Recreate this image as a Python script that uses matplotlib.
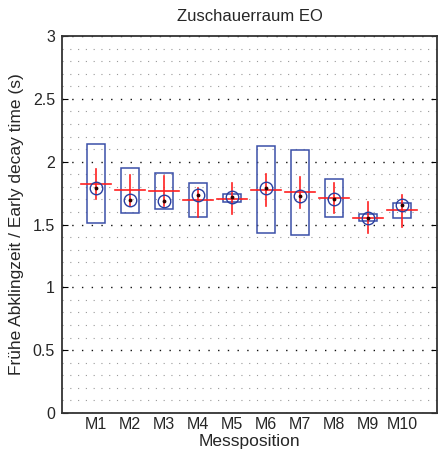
import numpy as np
import matplotlib.pyplot as plt
from matplotlib.patches import Rectangle
from matplotlib.ticker import MultipleLocator

plt.rcParams['font.family'] = ['Liberation Sans', 'DejaVu Sans']
plt.rcParams['text.color'] = '#262626'
plt.rcParams['xtick.labelcolor'] = '#262626'
plt.rcParams['ytick.labelcolor'] = '#262626'
plt.rcParams['axes.labelcolor'] = '#262626'

positions = ["M1", "M2", "M3", "M4", "M5", "M6", "M7", "M8", "M9", "M10"]
# box (min / max of measurements)
box_low  = [1.51, 1.59, 1.62, 1.56, 1.68, 1.43, 1.42, 1.56, 1.525, 1.55]
box_high = [2.14, 1.95, 1.91, 1.83, 1.74, 2.125, 2.095, 1.86, 1.58, 1.67]
# red cross: mean and spread
mean_val = [1.825, 1.772, 1.766, 1.695, 1.705, 1.775, 1.759, 1.708, 1.554, 1.613]
err_low  = [1.70, 1.647, 1.647, 1.562, 1.581, 1.650, 1.634, 1.589, 1.430, 1.482]
err_high = [1.94, 1.894, 1.886, 1.788, 1.828, 1.899, 1.881, 1.833, 1.677, 1.735]
# circle: median
median_val = [1.793, 1.692, 1.687, 1.732, 1.716, 1.793, 1.727, 1.703, 1.554, 1.653]
ytick_vals = [0, 0.5, 1, 1.5, 2, 2.5, 3]
ytick_labels = ["0", "0.5", "1", "1.5", "2", "2.5", "3"]

fig = plt.figure(figsize=(4.39, 4.54), dpi=100)
ax = fig.add_axes([0.141, 0.0903, 0.8545, 0.8304])

x = np.arange(1, len(positions) + 1)
box_w = 0.52
cross_w = 0.9

for i in range(len(positions)):
    ax.add_patch(Rectangle((x[i] - box_w / 2, box_low[i]), box_w, box_high[i] - box_low[i],
                           fill=False, edgecolor="#3a4fa8", linewidth=1.1, zorder=3))
    ax.plot([x[i] - cross_w / 2, x[i] + cross_w / 2], [mean_val[i], mean_val[i]],
            color="#ff2020", linewidth=1.2, zorder=4)
    ax.plot([x[i], x[i]], [err_low[i], err_high[i]], color="#ff2020", linewidth=1.2, zorder=4)

ax.plot(x, median_val, "o", markersize=9, markerfacecolor="none",
        markeredgecolor="#2a3fa0", markeredgewidth=1.0, zorder=5)
ax.plot(x, median_val, ".", markersize=3.5, color="#300000", zorder=6)

ax.set_xlim(0, 11.03)
ax.set_ylim(0, 3)
ax.set_xticks(x)
ax.set_xticklabels(positions, fontsize=11.5)
ax.set_yticks(ytick_vals)
ax.set_yticklabels(ytick_labels, fontsize=11.5)
ax.yaxis.set_minor_locator(MultipleLocator(0.1))
ax.tick_params(axis="x", length=0, pad=3)
ax.tick_params(axis="y", which="major", direction="in", length=4, right=True, pad=5)
ax.tick_params(axis="y", which="minor", length=0)

ax.grid(True, axis="y", which="minor", linestyle=(0, (1, 6)), color="#999999", linewidth=0.8)
ax.grid(True, axis="y", which="major", linestyle=(0, (1, 6)), color="#111111", linewidth=1.0)
ax.set_axisbelow(True)

for s in ax.spines.values():
    s.set_linewidth(1.3)
    s.set_color("#333333")

ax.set_title("Zuschauerraum EO", fontsize=12, pad=11)
ax.set_xlabel("Messposition", fontsize=12.5, labelpad=1.5)
ax.set_ylabel("Frühe Abklingzeit / Early decay time (s)", fontsize=12.5, labelpad=6)

fig.savefig("out.png", dpi=100)
